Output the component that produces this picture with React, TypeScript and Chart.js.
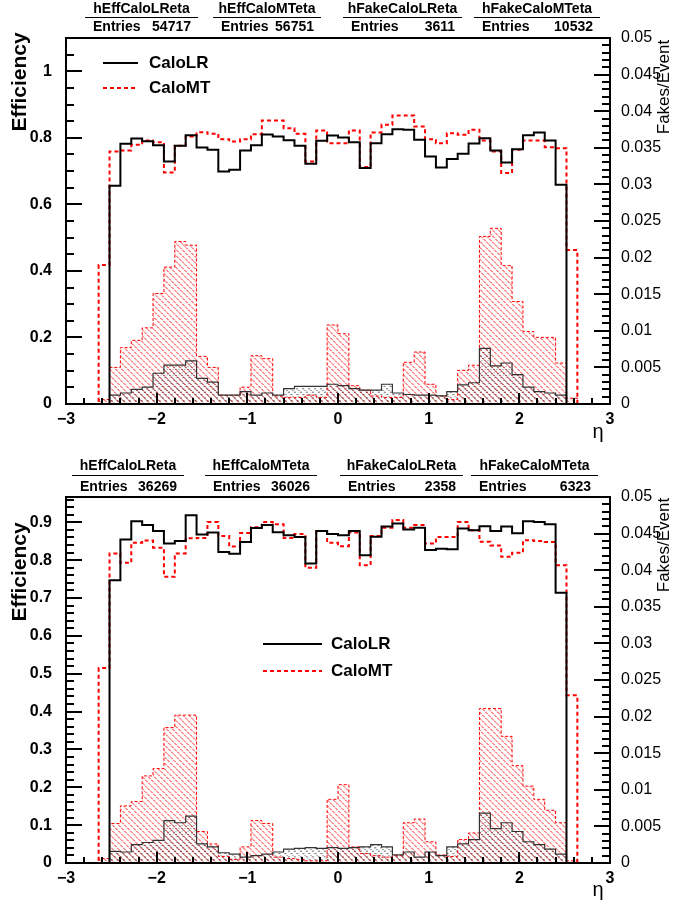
import { useEffect, useRef } from 'react';
import { Chart, registerables } from 'chart.js';

Chart.register(...registerables);

const FONT = '"Liberation Sans", Arial, Helvetica, sans-serif';

// ---- binning ----
const X_MIN = -3;
const X_MAX = 3;
const N_BINS = 50;
const X_TICKS = [-3, -2, -1, 0, 1, 2, 3];
const X_TICK_LABELS = ['\u22123', '\u22122', '\u22121', '0', '1', '2', '3'];

// ---- y axis ticks ----
const TOP_Y_TICKS = [0, 0.2, 0.4, 0.6, 0.8, 1];
const TOP_Y_LABELS = ['0', '0.2', '0.4', '0.6', '0.8', '1'];
const BOT_Y_TICKS = [0, 0.1, 0.2, 0.3, 0.4, 0.5, 0.6, 0.7, 0.8, 0.9];
const BOT_Y_LABELS = ['0', '0.1', '0.2', '0.3', '0.4', '0.5', '0.6', '0.7', '0.8', '0.9'];
const FAKE_TICKS = [0, 0.005, 0.01, 0.015, 0.02, 0.025, 0.03, 0.035, 0.04, 0.045, 0.05];
const FAKE_LABELS = ['0', '0.005', '0.01', '0.015', '0.02', '0.025', '0.03', '0.035', '0.04', '0.045', '0.05'];

// ---- legend / stats text ----
const LEGEND_LABELS = ['CaloLR', 'CaloMT'];
const STAT_NAMES = ['hEffCaloLReta', 'hEffCaloMTeta', 'hFakeCaloLReta', 'hFakeCaloMTeta'];
const TOP_ENTRIES = ['54717', '56751', '3611', '10532'];
const BOT_ENTRIES = ['36269', '36026', '2358', '6323'];

// ---- top panel data (50 bins, -3..3) ----
const TOP_EFF_LR = [
  0, 0, 0, 0, 0.656, 0.782, 0.798, 0.790, 0.778, 0.729,
  0.776, 0.808, 0.771, 0.764, 0.699, 0.704, 0.762, 0.778, 0.810, 0.804,
  0.793, 0.776, 0.722, 0.791, 0.807, 0.801, 0.787, 0.709, 0.784, 0.811,
  0.826, 0.824, 0.794, 0.744, 0.711, 0.736, 0.752, 0.783, 0.799, 0.762,
  0.726, 0.766, 0.808, 0.816, 0.792, 0.659, 0, 0, 0, 0,
];
const TOP_EFF_MT = [
  0, 0, 0, 0.418, 0.759, 0.762, 0.779, 0.792, 0.787, 0.696,
  0.776, 0.804, 0.817, 0.812, 0.796, 0.789, 0.796, 0.811, 0.852, 0.852,
  0.829, 0.812, 0.729, 0.822, 0.784, 0.784, 0.822, 0.712, 0.816, 0.839,
  0.867, 0.867, 0.834, 0.796, 0.784, 0.814, 0.809, 0.824, 0.792, 0.759,
  0.694, 0.764, 0.792, 0.792, 0.772, 0.769, 0.463, 0, 0, 0,
];
const TOP_FAKE_LR = [
  0, 0, 0, 0, 0.0012, 0.0015, 0.0020, 0.0023, 0.0042, 0.0053,
  0.0053, 0.0059, 0.0035, 0.0030, 0.0012, 0.0012, 0.0017, 0.0012, 0.0015, 0.0012,
  0.0021, 0.0024, 0.0024, 0.0024, 0.0027, 0.0025, 0.0021, 0.0019, 0.0019, 0.0027,
  0.0015, 0.0013, 0.0012, 0.0012, 0.0011, 0.0017, 0.0026, 0.0029, 0.0076, 0.0052,
  0.0056, 0.0040, 0.0023, 0.0017, 0.0015, 0.0012, 0, 0, 0, 0,
];
const TOP_FAKE_MT = [
  0, 0, 0, 0.0006, 0.0050, 0.0077, 0.0087, 0.0104, 0.0151, 0.0187,
  0.0222, 0.0217, 0.0065, 0.0050, 0.0012, 0.0012, 0.0023, 0.0066, 0.0062, 0.0011,
  0.0009, 0.0009, 0.0012, 0.0009, 0.0108, 0.0096, 0.0025, 0.0019, 0.0011, 0.0009,
  0.0009, 0.0057, 0.0071, 0.0027, 0.0011, 0.0006, 0.0046, 0.0053, 0.0229, 0.0240,
  0.0189, 0.0140, 0.0099, 0.0091, 0.0091, 0.0056, 0.0008, 0, 0, 0,
];

// ---- bottom panel data ----
const BOT_EFF_LR = [
  0, 0, 0, 0, 0.747, 0.855, 0.903, 0.893, 0.877, 0.844,
  0.851, 0.919, 0.868, 0.873, 0.822, 0.817, 0.848, 0.885, 0.893, 0.874,
  0.866, 0.861, 0.791, 0.877, 0.869, 0.866, 0.877, 0.813, 0.862, 0.889,
  0.897, 0.881, 0.886, 0.827, 0.830, 0.829, 0.884, 0.879, 0.890, 0.877,
  0.889, 0.871, 0.903, 0.901, 0.895, 0.714, 0, 0, 0, 0,
];
const BOT_EFF_MT = [
  0, 0, 0, 0.515, 0.818, 0.793, 0.846, 0.852, 0.833, 0.756,
  0.818, 0.858, 0.859, 0.901, 0.864, 0.836, 0.872, 0.887, 0.901, 0.895,
  0.859, 0.869, 0.780, 0.877, 0.846, 0.837, 0.873, 0.787, 0.864, 0.886,
  0.906, 0.886, 0.893, 0.844, 0.861, 0.861, 0.901, 0.879, 0.849, 0.839,
  0.809, 0.820, 0.853, 0.851, 0.848, 0.787, 0.443, 0, 0, 0,
];
const BOT_FAKE_LR = [
  0, 0, 0, 0, 0.0016, 0.0015, 0.0025, 0.0028, 0.0031, 0.0058,
  0.0055, 0.0064, 0.0026, 0.0022, 0.0014, 0.0012, 0.0008, 0.0010, 0.0012, 0.0015,
  0.0019, 0.0020, 0.0021, 0.0020, 0.0021, 0.0020, 0.0021, 0.0022, 0.0025, 0.0022,
  0.0011, 0.0015, 0.0008, 0.0015, 0.0010, 0.0022, 0.0026, 0.0032, 0.0068, 0.0047,
  0.0055, 0.0043, 0.0029, 0.0025, 0.0019, 0.0012, 0, 0, 0, 0,
];
const BOT_FAKE_MT = [
  0, 0, 0, 0.0006, 0.0054, 0.0078, 0.0084, 0.0119, 0.0129, 0.0185,
  0.0202, 0.0202, 0.0043, 0.0026, 0.0009, 0.0005, 0.0022, 0.0058, 0.0054, 0.0008,
  0.0006, 0.0005, 0.0003, 0.0003, 0.0087, 0.0107, 0.0022, 0.0013, 0.0010, 0.0008,
  0.0010, 0.0055, 0.0060, 0.0029, 0.0011, 0.0009, 0.0032, 0.0041, 0.0211, 0.0211,
  0.0173, 0.0133, 0.0105, 0.0087, 0.0072, 0.0055, 0.0003, 0, 0, 0,
];

type PanelCfg = {
  height: number;
  topPad: number;
  xAxisH: number;
  yMax: number;
  yTicks: number[];
  yLabels: string[];
  yMinor: number;
  effLR: number[];
  effMT: number[];
  fakeLR: number[];
  fakeMT: number[];
  entries: string[];
  boxes: number[][];
  statY: number[];
  legend: { x1: number; x2: number; tx: number; y1: number; y2: number };
  effTitleY: number;
  fakeTitleY: number;
  etaY: number;
};

const TOP_CFG: PanelCfg = {
  height: 455,
  topPad: 38,
  xAxisH: 51,
  yMax: 1.1,
  yTicks: TOP_Y_TICKS,
  yLabels: TOP_Y_LABELS,
  yMinor: 0.05,
  effLR: TOP_EFF_LR,
  effMT: TOP_EFF_MT,
  fakeLR: TOP_FAKE_LR,
  fakeMT: TOP_FAKE_MT,
  entries: TOP_ENTRIES,
  boxes: [[85, 198], [213, 321], [343, 462], [474, 600]],
  statY: [9, 17, 27],
  legend: { x1: 103, x2: 138, tx: 149, y1: 63, y2: 88 },
  effTitleY: 82,
  fakeTitleY: 87,
  etaY: 432,
};

const BOT_CFG: PanelCfg = {
  height: 454,
  topPad: 42,
  xAxisH: 46,
  yMax: 0.967,
  yTicks: BOT_Y_TICKS,
  yLabels: BOT_Y_LABELS,
  yMinor: 0.02,
  effLR: BOT_EFF_LR,
  effMT: BOT_EFF_MT,
  fakeLR: BOT_FAKE_LR,
  fakeMT: BOT_FAKE_MT,
  entries: BOT_ENTRIES,
  boxes: [[72, 184], [205, 317], [340, 463], [471, 598]],
  statY: [11, 20, 32],
  legend: { x1: 263, x2: 322, tx: 331, y1: 189, y2: 216 },
  effTitleY: 117,
  fakeTitleY: 90,
  etaY: 435,
};

function toPoints(vals: number[]) {
  const w = (X_MAX - X_MIN) / N_BINS;
  const pts = vals.map((v, k) => ({ x: X_MIN + k * w, y: v }));
  pts.push({ x: X_MAX, y: 0 });
  return pts;
}

function hatchDataset(chart: any, index: number, kind: 'red' | 'black') {
  const meta = chart.getDatasetMeta(index);
  const pts = meta.data as any[];
  if (!pts || pts.length < 2) return;
  const scale = chart.scales[meta.yAxisID];
  const y0 = scale.getPixelForValue(0);
  const ctx: CanvasRenderingContext2D = chart.ctx;
  const sx = chart.scales.x;
  const left = sx.getPixelForValue(X_MIN);
  const right = sx.getPixelForValue(X_MAX);
  const top = scale.getPixelForValue(scale.max);
  ctx.save();
  ctx.beginPath();
  ctx.moveTo(pts[0].x, y0);
  for (let k = 0; k < pts.length - 1; k++) {
    ctx.lineTo(pts[k].x, pts[k].y);
    ctx.lineTo(pts[k + 1].x, pts[k].y);
  }
  ctx.lineTo(pts[pts.length - 1].x, y0);
  ctx.closePath();
  ctx.clip();
  const H = y0 - top;
  ctx.lineWidth = 1;
  if (kind === 'red') {
    ctx.strokeStyle = 'rgba(255,0,0,0.9)';
    ctx.setLineDash([3, 1]);
    ctx.beginPath();
    for (let c = left - H; c < right; c += 6) {
      ctx.moveTo(c + 0.5, top);
      ctx.lineTo(c + 0.5 + H, top + H);
    }
    ctx.stroke();
  } else {
    ctx.strokeStyle = 'rgb(0,0,0)';
    ctx.setLineDash([1, 2]);
    ctx.beginPath();
    for (let c = left - H; c < right; c += 6) {
      ctx.moveTo(c + 0.5, top);
      ctx.lineTo(c + 0.5 + H, top + H);
    }
    ctx.stroke();
    ctx.strokeStyle = 'rgba(0,0,0,0.8)';
    ctx.setLineDash([1, 3]);
    ctx.beginPath();
    for (let c = left; c < right + H; c += 6) {
      ctx.moveTo(c + 0.5, top);
      ctx.lineTo(c + 0.5 - H, top + H);
    }
    ctx.stroke();
  }
  ctx.restore();
}

function drawFrame(chart: any, cfg: PanelCfg) {
  const ctx: CanvasRenderingContext2D = chart.ctx;
  const sx = chart.scales.x;
  const sy = chart.scales.y;
  const sy2 = chart.scales.y2;
  const L0 = Math.round(sx.getPixelForValue(X_MIN));
  const R0 = Math.round(sx.getPixelForValue(X_MAX));
  const T0 = Math.round(sy.getPixelForValue(cfg.yMax));
  const B0 = Math.round(sy.getPixelForValue(0));
  ctx.save();
  ctx.setLineDash([]);
  ctx.globalAlpha = 1;
  ctx.strokeStyle = '#000000';
  ctx.lineWidth = 2;
  ctx.strokeRect(L0, T0, R0 - L0, B0 - T0);
  ctx.beginPath();
  const nMinor = Math.round(cfg.yMax / cfg.yMinor);
  for (let i = 0; i <= nMinor; i++) {
    const v = i * cfg.yMinor;
    if (v > cfg.yMax + 1e-9) break;
    const major = cfg.yTicks.some((t) => Math.abs(t - v) < 1e-6);
    const py = Math.round(sy.getPixelForValue(v));
    ctx.moveTo(L0, py);
    ctx.lineTo(L0 + (major ? 16 : 8), py);
  }
  for (let i = 0; i <= 50; i++) {
    const v = i * 0.001;
    const major = i % 5 === 0;
    const py = Math.round(sy2.getPixelForValue(v));
    ctx.moveTo(R0, py);
    ctx.lineTo(R0 - (major ? 16 : 8), py);
  }
  for (let i = 0; i <= 30; i++) {
    const v = X_MIN + i * 0.2;
    const major = i % 5 === 0;
    const px = Math.round(sx.getPixelForValue(v));
    ctx.moveTo(px, B0);
    ctx.lineTo(px, B0 - (major ? 11 : 6));
  }
  ctx.stroke();
  ctx.restore();
}

function drawTexts(chart: any, cfg: PanelCfg) {
  const ctx: CanvasRenderingContext2D = chart.ctx;
  ctx.save();
  ctx.fillStyle = '#000000';
  ctx.save();
  ctx.translate(20, cfg.effTitleY);
  ctx.rotate(-Math.PI / 2);
  ctx.font = `bold 21px ${FONT}`;
  ctx.textAlign = 'center';
  ctx.textBaseline = 'middle';
  ctx.fillText('Efficiency', 0, 0);
  ctx.restore();
  ctx.save();
  ctx.translate(664, cfg.fakeTitleY);
  ctx.rotate(-Math.PI / 2);
  ctx.font = `17px ${FONT}`;
  ctx.textAlign = 'center';
  ctx.textBaseline = 'middle';
  ctx.fillText('Fakes/Event', 0, 0);
  ctx.restore();
  ctx.font = `20px ${FONT}`;
  ctx.textAlign = 'center';
  ctx.textBaseline = 'middle';
  ctx.fillText('\u03B7', 598, cfg.etaY);

  const L = cfg.legend;
  ctx.lineWidth = 2;
  ctx.strokeStyle = '#000000';
  ctx.beginPath();
  ctx.moveTo(L.x1, L.y1);
  ctx.lineTo(L.x2, L.y1);
  ctx.stroke();
  ctx.strokeStyle = '#ff0000';
  ctx.setLineDash([4, 3]);
  ctx.beginPath();
  ctx.moveTo(L.x1, L.y2);
  ctx.lineTo(L.x2, L.y2);
  ctx.stroke();
  ctx.setLineDash([]);
  ctx.font = `bold 17px ${FONT}`;
  ctx.textAlign = 'left';
  ctx.fillText(LEGEND_LABELS[0], L.tx, L.y1);
  ctx.fillText(LEGEND_LABELS[1], L.tx, L.y2);

  ctx.font = `bold 14px ${FONT}`;
  cfg.boxes.forEach((b, i) => {
    const [x0, x1] = b;
    ctx.textAlign = 'center';
    ctx.fillText(STAT_NAMES[i], (x0 + x1) / 2, cfg.statY[0]);
    ctx.fillRect(x0, cfg.statY[1], x1 - x0, 1);
    ctx.textAlign = 'left';
    ctx.fillText('Entries', x0 + 8, cfg.statY[2]);
    ctx.textAlign = 'right';
    ctx.fillText(cfg.entries[i], x1 - 7, cfg.statY[2]);
  });
  ctx.restore();
}

function makeDeco(cfg: PanelCfg) {
  return {
    id: 'rootDeco',
    beforeDatasetsDraw(chart: any) {
      hatchDataset(chart, 3, 'red');
      hatchDataset(chart, 2, 'black');
    },
    afterDatasetsDraw(chart: any) {
      drawFrame(chart, cfg);
    },
    afterDraw(chart: any) {
      drawTexts(chart, cfg);
    },
  };
}

function Panel({ cfg }: { cfg: PanelCfg }) {
  const ref = useRef<HTMLCanvasElement>(null);
  useEffect(() => {
    const canvas = ref.current;
    if (!canvas) return;
    const chart = new Chart(canvas, {
      type: 'line',
      data: {
        datasets: [
          {
            label: 'CaloLR',
            data: toPoints(cfg.effLR),
            yAxisID: 'y',
            borderColor: '#000000',
            borderWidth: 2,
            stepped: 'before',
            fill: false,
            pointRadius: 0,
            order: 0,
          },
          {
            label: 'CaloMT',
            data: toPoints(cfg.effMT),
            yAxisID: 'y',
            borderColor: '#ff0000',
            borderWidth: 2,
            borderDash: [4, 3],
            stepped: 'before',
            fill: false,
            pointRadius: 0,
            order: 1,
          },
          {
            label: 'FakeLR',
            data: toPoints(cfg.fakeLR),
            yAxisID: 'y2',
            borderColor: '#333333',
            borderWidth: 1.2,
            stepped: 'before',
            fill: false,
            pointRadius: 0,
            order: 2,
          },
          {
            label: 'FakeMT',
            data: toPoints(cfg.fakeMT),
            yAxisID: 'y2',
            borderColor: '#ff0000',
            borderWidth: 1,
            borderDash: [3, 2],
            stepped: 'before',
            fill: false,
            pointRadius: 0,
            order: 3,
          },
        ] as any,
      },
      options: {
        animation: false,
        responsive: false,
        maintainAspectRatio: false,
        parsing: false,
        layout: { padding: { top: cfg.topPad, left: 0, right: 0, bottom: 0 } },
        plugins: {
          legend: { display: false },
          tooltip: { enabled: false },
        },
        events: [],
        scales: {
          x: {
            type: 'linear',
            min: X_MIN,
            max: X_MAX,
            grid: { display: false },
            border: { display: false },
            afterBuildTicks: (s: any) => {
              s.ticks = X_TICKS.map((v) => ({ value: v }));
            },
            afterFit: (s: any) => {
              s.height = cfg.xAxisH;
            },
            ticks: {
              autoSkip: false,
              maxRotation: 0,
              padding: -2,
              color: '#000',
              font: { family: FONT, size: 16, weight: 'bold' },
              callback: (v: any) => X_TICK_LABELS[X_TICKS.indexOf(Number(v))] ?? '',
            },
          },
          y: {
            type: 'linear',
            position: 'left',
            min: 0,
            max: cfg.yMax,
            grid: { display: false },
            border: { display: false },
            afterBuildTicks: (s: any) => {
              s.ticks = cfg.yTicks.map((v) => ({ value: v }));
            },
            afterFit: (s: any) => {
              s.width = 66;
            },
            ticks: {
              autoSkip: false,
              padding: 6,
              color: '#000',
              font: { family: FONT, size: 16, weight: 'bold' },
              callback: (v: any) => cfg.yLabels[cfg.yTicks.indexOf(Number(v))] ?? '',
            },
          },
          y2: {
            type: 'linear',
            position: 'right',
            min: 0,
            max: 0.05,
            grid: { display: false },
            border: { display: false },
            afterBuildTicks: (s: any) => {
              s.ticks = FAKE_TICKS.map((v) => ({ value: v }));
            },
            afterFit: (s: any) => {
              s.width = 64;
            },
            ticks: {
              autoSkip: false,
              padding: 3,
              color: '#000',
              font: { family: FONT, size: 16 },
              callback: (v: any) => FAKE_LABELS[FAKE_TICKS.indexOf(Number(v))] ?? '',
            },
          },
        },
      } as any,
      plugins: [makeDeco(cfg)],
    });
    return () => chart.destroy();
  }, [cfg]);
  return (
    <div style={{ width: 674, height: cfg.height, position: 'relative' }}>
      <canvas ref={ref} width={674} height={cfg.height} style={{ display: 'block', width: 674, height: cfg.height }} />
    </div>
  );
}

export default function App() {
  return (
    <div style={{ position: 'absolute', left: 0, top: 0, width: 674, height: 909, background: '#ffffff' }}>
      <Panel cfg={TOP_CFG} />
      <Panel cfg={BOT_CFG} />
    </div>
  );
}
